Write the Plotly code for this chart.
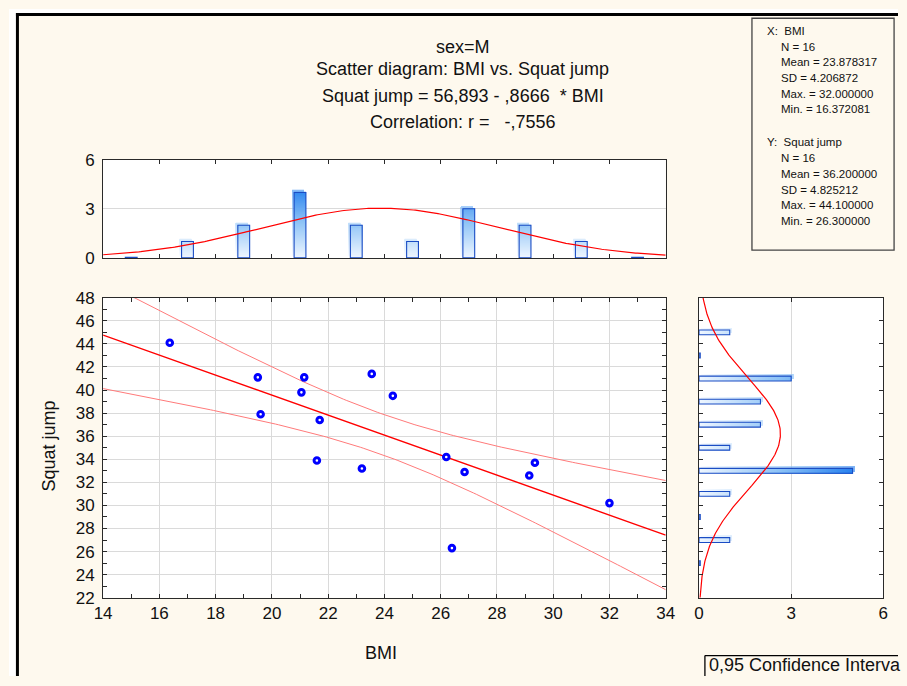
import numpy as np
import plotly.graph_objects as go

# ---------------- data ----------------
bmi = [16.37, 19.50, 21.15, 21.05, 19.60, 21.70, 21.60, 23.20,
       23.55, 24.30, 26.20, 26.85, 26.40, 29.15, 29.35, 32.00]
squat_jump = [44.1, 41.1, 41.1, 39.8, 37.9, 37.4, 33.9, 33.2,
              41.4, 39.5, 34.2, 32.9, 26.3, 32.6, 33.7, 30.2]

intercept = 56.893
slope = -0.8666
corr_r = -0.7556
t_crit = 2.1448  # t(0.975, df=14)

bmi_bin_centers = [15, 17, 19, 21, 23, 25, 27, 29, 31, 33]
bmi_bin_counts = [0, 1, 2, 4, 2, 1, 3, 2, 1, 0]
bin_width = 2

sj_bin_centers = [25, 27, 29, 31, 33, 35, 37, 39, 41, 43, 45]
sj_bin_counts = [0, 1, 0, 1, 5, 1, 2, 2, 3, 0, 1]

title_lines = ["sex=M",
               "Scatter diagram: BMI vs. Squat jump",
               "Squat jump = 56,893 - ,8666  * BMI",
               "Correlation: r =   -,7556"]
stats_x = ["X:  BMI", "N = 16", "Mean = 23.878317", "SD = 4.206872",
           "Max. = 32.000000", "Min. = 16.372081"]
stats_y = ["Y:  Squat jump", "N = 16", "Mean = 36.200000", "SD = 4.825212",
           "Max. = 44.100000", "Min. = 26.300000"]
legend_text = "0,95 Confidence Interva"
x_ticks = list(range(14, 35, 2))
y_ticks = list(range(22, 49, 2))
hist_ticks = [0, 3, 6]

W, H = 907, 686
def px(x):
    return x / W
def py(y):
    return 1 - y / H

FONT = "Arial, 'Liberation Sans', sans-serif"
CREAM = "#fef9ee"
RED = "#ff0000"
BAR_LINE = "#1a4cc4"
GRID = "#dadada"
AX = "#2a2a2a"

bx = np.array(bmi)
by = np.array(squat_jump)
n = len(bx)

fig = go.Figure()

def gradient_segments(centers, counts, step=0.05):
    pos, base, length = [], [], []
    for c, cnt in zip(centers, counts):
        k = 0
        while k * step < cnt - 1e-9:
            pos.append(c)
            base.append(k * step)
            length.append(cnt - k * step)
            k += 1
    return np.array(pos), np.array(base), np.array(length)

cs = [[0, "#eef6ff"], [0.5, "#8cc2f6"], [1, "#1f7cee"]]
BW = 0.42

tp, tb, tl = gradient_segments(bmi_bin_centers, bmi_bin_counts)
fig.add_trace(go.Bar(x=tp - 0.07, y=tl, base=tb + 0.12, width=BW,
                     marker=dict(color=tb, colorscale=cs, cmin=0, cmax=4.4, line_width=0),
                     opacity=0.6, xaxis="x2", yaxis="y2", hoverinfo="skip", showlegend=False))
fig.add_trace(go.Bar(x=tp, y=tl, base=tb, width=BW,
                     marker=dict(color=tb, colorscale=cs, cmin=0, cmax=4.4, line_width=0),
                     xaxis="x2", yaxis="y2", hoverinfo="skip", showlegend=False))
fig.add_trace(go.Bar(x=bmi_bin_centers, y=np.maximum(bmi_bin_counts, 0.04), width=BW,
                     marker=dict(color="rgba(0,0,0,0)", line=dict(color=BAR_LINE, width=1.1)),
                     xaxis="x2", yaxis="y2", hoverinfo="skip", showlegend=False))
xs = np.linspace(14, 34, 300)
mx, sx = bx.mean(), bx.std(ddof=1)
fig.add_trace(go.Scatter(x=xs, y=n * bin_width * np.exp(-0.5 * ((xs - mx) / sx) ** 2) / (sx * np.sqrt(2 * np.pi)),
                         mode="lines", line=dict(color=RED, width=1.2),
                         xaxis="x2", yaxis="y2", hoverinfo="skip", showlegend=False))

rp, rb, rl = gradient_segments(sj_bin_centers, sj_bin_counts)
fig.add_trace(go.Bar(y=rp + 0.17, x=rl, base=rb + 0.065, width=BW, orientation="h",
                     marker=dict(color=rb, colorscale=cs, cmin=0, cmax=5.2, line_width=0),
                     opacity=0.6, xaxis="x3", yaxis="y3", hoverinfo="skip", showlegend=False))
fig.add_trace(go.Bar(y=rp, x=rl, base=rb, width=BW, orientation="h",
                     marker=dict(color=rb, colorscale=cs, cmin=0, cmax=5.2, line_width=0),
                     xaxis="x3", yaxis="y3", hoverinfo="skip", showlegend=False))
fig.add_trace(go.Bar(y=sj_bin_centers, x=np.maximum(sj_bin_counts, 0.04), width=BW, orientation="h",
                     marker=dict(color="rgba(0,0,0,0)", line=dict(color=BAR_LINE, width=1.1)),
                     xaxis="x3", yaxis="y3", hoverinfo="skip", showlegend=False))
ys = np.linspace(22, 48, 300)
my, sy = by.mean(), by.std(ddof=1)
fig.add_trace(go.Scatter(y=ys, x=n * bin_width * np.exp(-0.5 * ((ys - my) / sy) ** 2) / (sy * np.sqrt(2 * np.pi)),
                         mode="lines", line=dict(color=RED, width=1.2),
                         xaxis="x3", yaxis="y3", hoverinfo="skip", showlegend=False))

xl = np.linspace(14, 34, 200)
yhat = intercept + slope * xl
resid = by - (intercept + slope * bx)
s_e = np.sqrt(np.sum(resid ** 2) / (n - 2))
sxx = np.sum((bx - mx) ** 2)
half = t_crit * s_e * np.sqrt(1 / n + (xl - mx) ** 2 / sxx)
fig.add_trace(go.Scatter(x=xl, y=yhat + half, mode="lines", line=dict(color="#ff7a7a", width=1),
                         hoverinfo="skip", showlegend=False))
fig.add_trace(go.Scatter(x=xl, y=yhat - half, mode="lines", line=dict(color="#ff7a7a", width=1),
                         hoverinfo="skip", showlegend=False))
fig.add_trace(go.Scatter(x=xl, y=yhat, mode="lines", line=dict(color=RED, width=1.4),
                         hoverinfo="skip", showlegend=False))
fig.add_trace(go.Scatter(x=bmi, y=squat_jump, mode="markers",
                         marker=dict(symbol="circle", size=5.6, color="white",
                                     line=dict(color="#0000ff", width=3)),
                         hoverinfo="skip", showlegend=False))

tickfont = dict(family=FONT, size=17, color="#111")
common = dict(showline=True, linecolor=AX, linewidth=1.2, mirror="ticks",
              ticks="inside", tickcolor=AX, ticklen=4, zeroline=False)

fig.update_layout(
    xaxis=dict(domain=[px(96), px(670)], range=[14, 34], tickvals=x_ticks,
               showgrid=True, gridcolor=GRID, gridwidth=1, tickfont=tickfont,
               minor=dict(ticks="inside", dtick=1, ticklen=4, tickcolor=AX, showgrid=False),
               anchor="y", **common),
    yaxis=dict(domain=[py(605.5), py(297)], range=[22, 48], tickvals=y_ticks,
               showgrid=True, gridcolor=GRID, gridwidth=1, tickfont=tickfont,
               ticklabelstandoff=4,
               minor=dict(ticks="inside", dtick=1, ticklen=4, tickcolor=AX, showgrid=False),
               anchor="x", **common),
    xaxis2=dict(domain=[px(96), px(670)], range=[14, 34], tickvals=x_ticks,
                showticklabels=False, showgrid=False, anchor="y2", **common),
    yaxis2=dict(domain=[py(256), py(155)], range=[0, 6], tickvals=hist_ticks,
                showgrid=True, gridcolor=GRID, tickfont=tickfont, ticklabelstandoff=4,
                anchor="x2", showline=True, linecolor=AX, linewidth=1.2, mirror=True,
                ticks="", zeroline=False),
    xaxis3=dict(domain=[px(704), px(892)], range=[0, 6], tickvals=hist_ticks,
                showgrid=True, gridcolor=GRID, tickfont=tickfont, anchor="y3", **common),
    yaxis3=dict(domain=[py(605.5), py(297)], range=[22, 48], tickvals=y_ticks,
                showticklabels=False, showgrid=False, anchor="x3", **common),
    barmode="overlay",
    width=W, height=H, autosize=False,
    margin=dict(l=0, r=0, t=0, b=0),
    paper_bgcolor=CREAM, plot_bgcolor="white",
    font=dict(family=FONT, color="#111"),
    hovermode=False,
)

ann = []
for txt, yy in zip(title_lines, [39.3, 61.7, 89.3, 116.7]):
    ann.append(dict(text=txt, x=px(463), y=py(yy), xref="paper", yref="paper",
                    xanchor="center", yanchor="middle", showarrow=False,
                    font=dict(family=FONT, size=18, color="#111")))
for i, (txt, yy) in enumerate(zip(stats_x, [23, 39.3, 55, 71, 87.3, 102.7])):
    ann.append(dict(text=txt, x=px(771.5 if i == 0 else 786), y=py(yy), xref="paper", yref="paper",
                    xanchor="left", yanchor="middle", showarrow=False,
                    font=dict(family=FONT, size=11.5, color="#111")))
for i, (txt, yy) in enumerate(zip(stats_y, [136.7, 153, 170, 186, 201.7, 218])):
    ann.append(dict(text=txt, x=px(771.5 if i == 0 else 786), y=py(yy), xref="paper", yref="paper",
                    xanchor="left", yanchor="middle", showarrow=False,
                    font=dict(family=FONT, size=11.5, color="#111")))
ann.append(dict(text="Squat jump", x=px(40.7), y=py(449), xref="paper", yref="paper",
                textangle=-90, xanchor="center", yanchor="middle", showarrow=False,
                font=dict(family=FONT, size=18, color="#111")))
ann.append(dict(text="BMI", x=px(380), y=py(662), xref="paper", yref="paper",
                xanchor="center", yanchor="middle", showarrow=False,
                font=dict(family=FONT, size=18, color="#111")))
ann.append(dict(text=legend_text, x=px(713), y=0, xref="paper", yref="paper",
                xanchor="left", yanchor="bottom", showarrow=False, borderpad=0,
                font=dict(family=FONT, size=18, color="#111")))
fig.update_layout(annotations=ann)

def hline(x0, x1, y, color, width):
    return dict(type="line", xref="paper", yref="paper", x0=px(x0), x1=px(x1), y0=py(y), y1=py(y),
                line=dict(color=color, width=width))
def vline(x, y0, y1, color, width):
    return dict(type="line", xref="paper", yref="paper", x0=px(x), x1=px(x), y0=py(y0), y1=py(y1),
                line=dict(color=color, width=width))

shapes = [
    dict(type="rect", xref="paper", yref="paper", x0=0, x1=px(7.2), y0=0, y1=1,
         fillcolor="white", line=dict(width=0), layer="below"),
    dict(type="rect", xref="paper", yref="paper", x0=0, x1=1, y0=py(4.2), y1=1,
         fillcolor="white", line=dict(width=0), layer="below"),
    vline(8.6, 4.2, 686, "black", 3),
    hline(7.1, 907, 5.6, "black", 3),
    dict(type="rect", xref="paper", yref="paper", x0=px(758), x1=px(903), y0=py(248), y1=py(9.5),
         line=dict(color="#444", width=1.3)),
    vline(710, 665, 686, "black", 1.3),
    hline(710, 907, 665, "black", 1.3),
]
fig.update_layout(shapes=shapes)

fig.write_html("out.html")
